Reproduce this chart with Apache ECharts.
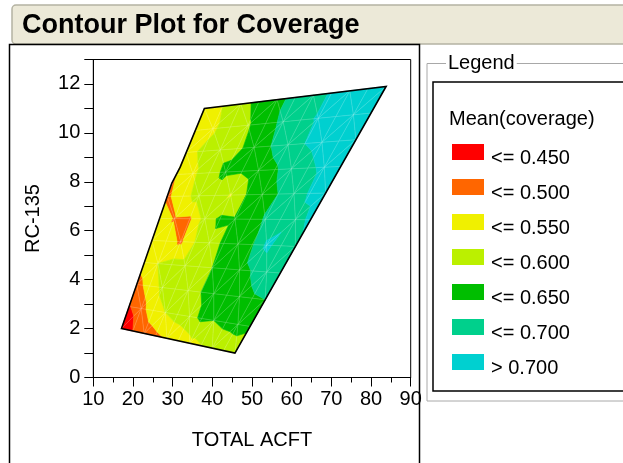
<!DOCTYPE html>
<html><head><meta charset="utf-8">
<script src="https://cdn.jsdelivr.net/npm/echarts@6/dist/echarts.min.js"></script>
<style>html,body{margin:0;padding:0;background:#fff;}#c{width:623px;height:463px;}</style>
</head><body><div id="c"></div>
<script>
// ---- data ----
const titleText = 'Contour Plot for Coverage';
const xName = 'TOTAL ACFT';
const yName = 'RC-135';
const legendTitle = 'Mean(coverage)';
const bandLabels = ['<= 0.450','<= 0.500','<= 0.550','<= 0.600','<= 0.650','<= 0.700','> 0.700'];
const bandUpper = [0.45, 0.50, 0.55, 0.60, 0.65, 0.70, Infinity];
const bandColors = ['#FF0000','#FF6600','#F0F000','#BBF000','#00BE00','#00D08C','#00D0D0'];
// boundary of the sampled region (TOTAL ACFT, RC-135)
const hullLeft = [[17.1,2],[29.8,7.95],[31.9,8.6],[38,11]];
const hullRight = [[45.7,1],[83.8,11.9]];
// mean coverage, rows from bottom edge (v=0) to top edge (v=1), columns left edge to right edge
const rowV0  = [0.40, 0.45, 0.47, 0.49, 0.505, 0.52, 0.535, 0.548, 0.555, 0.565, 0.57];
const rowV1  = [0.445, 0.48, 0.53, 0.55, 0.57, 0.58, 0.61, 0.60, 0.615, 0.62, 0.61];
const rowV2  = [0.48, 0.52, 0.56, 0.56, 0.58, 0.60, 0.62, 0.625, 0.63, 0.645, 0.65];
const rowV3  = [0.52, 0.55, 0.57, 0.57, 0.555, 0.60, 0.615, 0.625, 0.655, 0.675, 0.69];
const rowV4  = [0.52, 0.53, 0.49, 0.55, 0.585, 0.605, 0.615, 0.645, 0.71, 0.68, 0.695];
const rowV5  = [0.53, 0.495, 0.49, 0.57, 0.61, 0.605, 0.625, 0.655, 0.67, 0.69, 0.705];
const rowV6  = [0.49, 0.53, 0.57, 0.58, 0.545, 0.60, 0.63, 0.65, 0.67, 0.705, 0.71];
const rowV7  = [0.50, 0.54, 0.58, 0.61, 0.605, 0.63, 0.645, 0.67, 0.69, 0.71, 0.72];
const rowV8  = [0.53, 0.56, 0.585, 0.59, 0.62, 0.65, 0.67, 0.70, 0.715, 0.725, 0.73];
const rowV9  = [0.53, 0.54, 0.58, 0.595, 0.63, 0.66, 0.685, 0.705, 0.72, 0.73, 0.74];
const rowV10 = [0.535, 0.55, 0.58, 0.615, 0.64, 0.66, 0.68, 0.705, 0.72, 0.735, 0.75];
const gridRows = [rowV0,rowV1,rowV2,rowV3,rowV4,rowV5,rowV6,rowV7,rowV8,rowV9,rowV10];

// ---- mesh ----
function leftAt(v){
  const y0 = hullLeft[0][1], y1 = hullLeft[hullLeft.length-1][1];
  const y = y0 + v*(y1-y0);
  for (let k=0;k<hullLeft.length-1;k++){
    const a=hullLeft[k], b=hullLeft[k+1];
    if (y<=b[1] || k===hullLeft.length-2){
      const t=(y-a[1])/(b[1]-a[1]);
      return [a[0]+t*(b[0]-a[0]), y];
    }
  }
}
function rightAt(v){
  const a=hullRight[0], b=hullRight[1];
  return [a[0]+v*(b[0]-a[0]), a[1]+v*(b[1]-a[1])];
}
const nR = gridRows.length, nC = gridRows[0].length;
const nodes = [];
for (let i=0;i<nR;i++){
  const v=i/(nR-1), L=leftAt(v), R=rightAt(v); const row=[];
  for (let j=0;j<nC;j++){ const u=j/(nC-1); row.push([L[0]+u*(R[0]-L[0]), L[1]+u*(R[1]-L[1])]); }
  nodes.push(row);
}
const tris = [];
for (let i=0;i<nR-1;i++) for (let j=0;j<nC-1;j++){
  const a=[i,j], b=[i,j+1], c=[i+1,j+1], d=[i+1,j];
  if ((i+j)%2===0){ tris.push([a,b,c]); tris.push([a,c,d]); }
  else { tris.push([a,b,d]); tris.push([b,c,d]); }
}
function clipPoly(pts, vals, level, keepAbove){
  const oP=[], oV=[], n=pts.length;
  for (let i=0;i<n;i++){
    const a=pts[i], va=vals[i], b=pts[(i+1)%n], vb=vals[(i+1)%n];
    const ina = keepAbove ? va>level : va<=level;
    const inb = keepAbove ? vb>level : vb<=level;
    if (ina){ oP.push(a); oV.push(va); }
    if (ina!==inb){ const t=(level-va)/(vb-va); oP.push([a[0]+t*(b[0]-a[0]), a[1]+t*(b[1]-a[1])]); oV.push(level); }
  }
  return [oP,oV];
}
const bandPolys = bandLabels.map(()=>[]);
tris.forEach(t=>{
  const P=t.map(([i,j])=>nodes[i][j]), V=t.map(([i,j])=>gridRows[i][j]);
  for (let k=0;k<bandLabels.length;k++){
    let p=P, vv=V;
    if (k>0){ [p,vv]=clipPoly(p,vv,bandUpper[k-1],true); }
    if (p.length>=3 && k<bandLabels.length-1){ [p,vv]=clipPoly(p,vv,bandUpper[k],false); }
    if (p.length>=3) bandPolys[k].push(p);
  }
});
const meshSegs = [];
tris.forEach(t=>{ for (let e=0;e<3;e++){ const a=t[e], b=t[(e+1)%3]; meshSegs.push([nodes[a[0]][a[1]], nodes[b[0]][b[1]]]); } });
const hullPoly = [hullLeft[0], hullRight[0], hullRight[1]].concat(hullLeft.slice(1).reverse());

function centroid(p){ let x=0,y=0; p.forEach(q=>{x+=q[0];y+=q[1];}); return [x/p.length, y/p.length]; }

const FONT = '"Liberation Sans", Arial, sans-serif';
const series = bandLabels.map((name,k)=>({
  type:'custom', name, coordinateSystem:'cartesian2d', silent:true, animation:false,
  itemStyle:{color:bandColors[k]},
  data: bandPolys[k].map(centroid),
  renderItem:(params, api)=>({
    type:'polygon',
    shape:{points: bandPolys[k][params.dataIndex].map(q=>api.coord(q))},
    style:{fill:bandColors[k], stroke:bandColors[k], lineWidth:0.6}
  })
}));
series.push({
  type:'custom', name:'mesh', coordinateSystem:'cartesian2d', silent:true, animation:false,
  data: meshSegs.map(s=>centroid(s)),
  renderItem:(params, api)=>{ const s=meshSegs[params.dataIndex]; const a=api.coord(s[0]), b=api.coord(s[1]);
    return {type:'line', shape:{x1:a[0],y1:a[1],x2:b[0],y2:b[1]}, style:{stroke:'rgba(255,255,255,0.16)', lineWidth:0.6}}; }
});
series.push({
  type:'custom', name:'hull', coordinateSystem:'cartesian2d', silent:true, animation:false,
  data:[centroid(hullPoly)],
  renderItem:(params, api)=>({type:'polygon', shape:{points: hullPoly.map(q=>api.coord(q))}, style:{fill:'none', stroke:'#000', lineWidth:1.6}})
});

// legend drawn as swatches + labels
const legendGraphics = [];
bandLabels.forEach((lab,k)=>{
  legendGraphics.push({type:'rect', shape:{x:452, y:144+35*k, width:32, height:16}, style:{fill:bandColors[k]}, z:2});
  legendGraphics.push({type:'text', x:491, y:158.5+35*k, style:{text:lab, font:'20px '+FONT, fill:'#000', verticalAlign:'middle'}, z:2});
});

const chart = echarts.init(document.getElementById('c'), null, {renderer:'canvas'});
chart.setOption({
  animation:false,
  backgroundColor:'#fff',
  textStyle:{fontFamily:FONT},
  grid:{left:93.3, right:212.3, top:59.5, bottom:85.5, show:true, borderColor:'#000', borderWidth:1, backgroundColor:'transparent'},
  xAxis:{type:'value', min:10, max:90, interval:10,
    axisLine:{show:true, onZero:false, lineStyle:{color:'#000', width:1}},
    axisTick:{show:true, inside:false, length:9, lineStyle:{color:'#000', width:1}},
    minorTick:{show:true, splitNumber:2, length:5, lineStyle:{color:'#000', width:1}},
    splitLine:{show:false}, minorSplitLine:{show:false},
    axisLabel:{color:'#000', fontSize:20, fontFamily:FONT, margin:12},
    name:xName, nameLocation:'middle', nameGap:53, nameTextStyle:{color:'#000', fontSize:20, fontFamily:FONT}},
  yAxis:{type:'value', min:0, max:13, interval:1,
    axisLine:{show:true, onZero:false, lineStyle:{color:'#000', width:1}},
    axisTick:{show:true, inside:false, length:9, lineStyle:{color:'#000', width:1}},
    splitLine:{show:false},
    axisLabel:{color:'#000', fontSize:20, fontFamily:FONT, margin:13, formatter:v=>(v%2===0 && v<13)? String(v):''},
    name:yName, nameLocation:'middle', nameGap:50, nameRotate:90, nameTextStyle:{color:'#000', fontSize:20, fontFamily:FONT}},
  graphic:[
    {type:'rect', shape:{x:12, y:5, width:640, height:39, r:4}, style:{fill:'#ECE9D8', stroke:'#B4B2A2', lineWidth:1.5}, z:1},
    {type:'text', x:22, y:26, style:{text:titleText, font:'bold 27px '+FONT, fill:'#000', verticalAlign:'middle'}, z:2},
    {type:'rect', shape:{x:9.5, y:44.5, width:410, height:440}, style:{fill:'none', stroke:'#000', lineWidth:1.5}, z:1},
    {type:'rect', shape:{x:427, y:63.5, width:300, height:337.5}, style:{fill:'none', stroke:'#A8A8A8', lineWidth:1}, z:1},
    {type:'text', x:446, y:63.5, style:{text:'Legend', font:'20px '+FONT, fill:'#000', verticalAlign:'middle', backgroundColor:'#fff', padding:[0,2,0,2]}, z:2},
    {type:'rect', shape:{x:433, y:82, width:300, height:309}, style:{fill:'none', stroke:'#000', lineWidth:1.5}, z:1},
    {type:'text', x:449, y:119, style:{text:legendTitle, font:'20px '+FONT, fill:'#000', verticalAlign:'middle'}, z:2}
  ].concat(legendGraphics),
  series
});
</script></body></html>
